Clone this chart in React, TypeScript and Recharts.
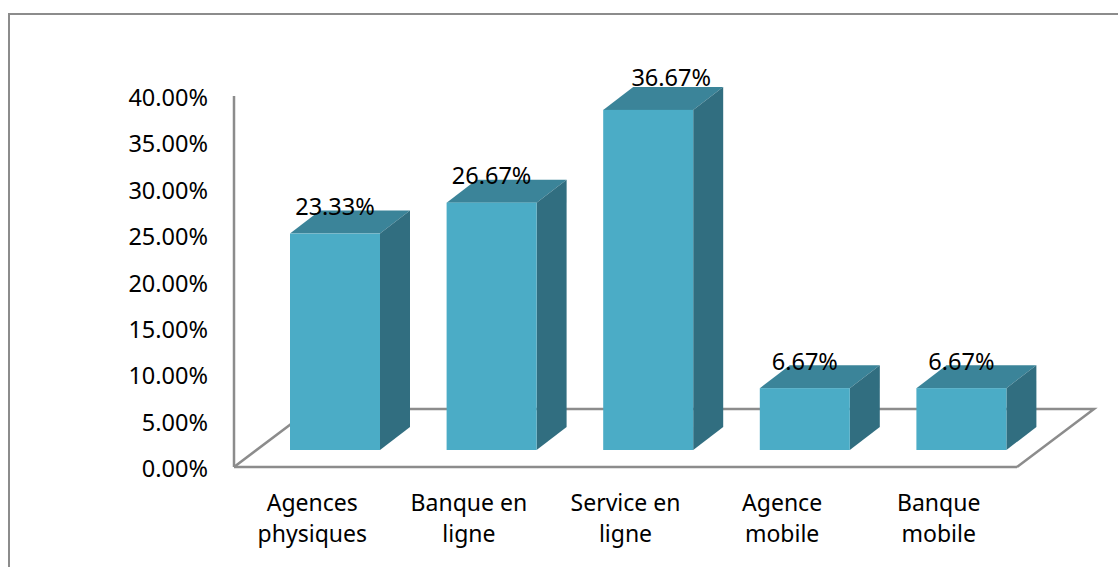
import { BarChart, Bar, XAxis, YAxis, LabelList, Customized } from 'recharts';

const CATEGORIES = ['Agences\nphysiques', 'Banque en\nligne', 'Service en\nligne', 'Agence\nmobile', 'Banque\nmobile'];
const SHARES = [23.33, 26.67, 36.67, 6.67, 6.67];
const Y_TICKS = [0, 5, 10, 15, 20, 25, 30, 35, 40];

const chartData = CATEGORIES.map((name, i) => ({ name, share: SHARES[i] }));

const FONT = '"Noto Sans", sans-serif';
const FONT_SIZE = 23.5;
const AXIS_COLOR = '#8c8c8c';
const AXIS_WIDTH = 2.5;

// fake 3D: box depth, and how far the box sits from the axis origin
const DEPTH_X = 30;
const DEPTH_Y = 23;
const SHIFT_X = 23;
const SHIFT_Y = -17;

function Box3D({ x, y, width, height }: any) {
  const l = x + SHIFT_X;
  const r = l + width;
  const t = y + SHIFT_Y;
  const b = t + height;
  return (
    <g>
      <polygon
        points={`${l},${t} ${l + DEPTH_X},${t - DEPTH_Y} ${r + DEPTH_X},${t - DEPTH_Y} ${r},${t}`}
        fill="#3B8499"
      />
      <polygon
        points={`${r},${t} ${r + DEPTH_X},${t - DEPTH_Y} ${r + DEPTH_X},${b - DEPTH_Y} ${r},${b}`}
        fill="#316E80"
      />
      <rect x={l} y={t} width={width} height={height} fill="#4BACC6" />
    </g>
  );
}

// the floor parallelogram behind the bars
function Floor() {
  return (
    <polyline
      points="234,467 311,409 1094,409 1017,467"
      fill="none"
      stroke={AXIS_COLOR}
      strokeWidth={AXIS_WIDTH}
    />
  );
}

function BarLabel({ x, y, width, value, index }: any) {
  // the third label was dragged off its bar in the original
  const moved = index === 2;
  return (
    <text
      x={x + SHIFT_X + width / 2 + (moved ? 23 : 0)}
      y={y + SHIFT_Y + (moved ? -24 : -18.5)}
      textAnchor="middle"
      fontFamily={FONT}
      fontSize={FONT_SIZE}
      fill="#000"
    >
      {value.toFixed(2)}%
    </text>
  );
}

function CategoryTick({ x, y, payload }: any) {
  const lines = String(payload.value).split('\n');
  return (
    <text x={x} textAnchor="middle" fontFamily={FONT} fontSize={23} fill="#000">
      {lines.map((line, i) => (
        <tspan key={line} x={x} y={y + 36 + i * 31}>
          {line}
        </tspan>
      ))}
    </text>
  );
}

function ValueTick({ x, y, payload }: any) {
  return (
    <text x={x} y={y + 10} textAnchor="end" fontFamily={FONT} fontSize={FONT_SIZE} fill="#000">
      {payload.value.toFixed(2)}%
    </text>
  );
}

export default function App() {
  return (
    <div style={{ position: 'absolute', left: 0, top: 0, width: 1118, height: 567, overflow: 'hidden', background: '#fff' }}>
      <div
        style={{
          position: 'absolute',
          left: 8,
          top: 13,
          width: 1200,
          height: 700,
          borderLeft: '2px solid #8c8c8c',
          borderTop: '2px solid #8c8c8c',
        }}
      />
      <div style={{ position: 'absolute', left: 0, top: 0 }}>
        <BarChart
          width={1118}
          height={567}
          data={chartData}
          margin={{ top: 96, right: 101, bottom: 0, left: 0 }}
        >
          <Customized component={Floor} />
          <XAxis
            dataKey="name"
            height={100}
            interval={0}
            axisLine={{ stroke: AXIS_COLOR, strokeWidth: AXIS_WIDTH }}
            tickLine={false}
            tick={<CategoryTick />}
          />
          <YAxis
            width={234}
            domain={[0, 40]}
            ticks={Y_TICKS}
            axisLine={{ stroke: AXIS_COLOR, strokeWidth: AXIS_WIDTH }}
            tickLine={false}
            tickSize={0}
            tickMargin={26}
            tick={<ValueTick />}
          />
          <Bar dataKey="share" barSize={90} shape={<Box3D />} isAnimationActive={false}>
            <LabelList dataKey="share" content={<BarLabel />} />
          </Bar>
        </BarChart>
      </div>
    </div>
  );
}
